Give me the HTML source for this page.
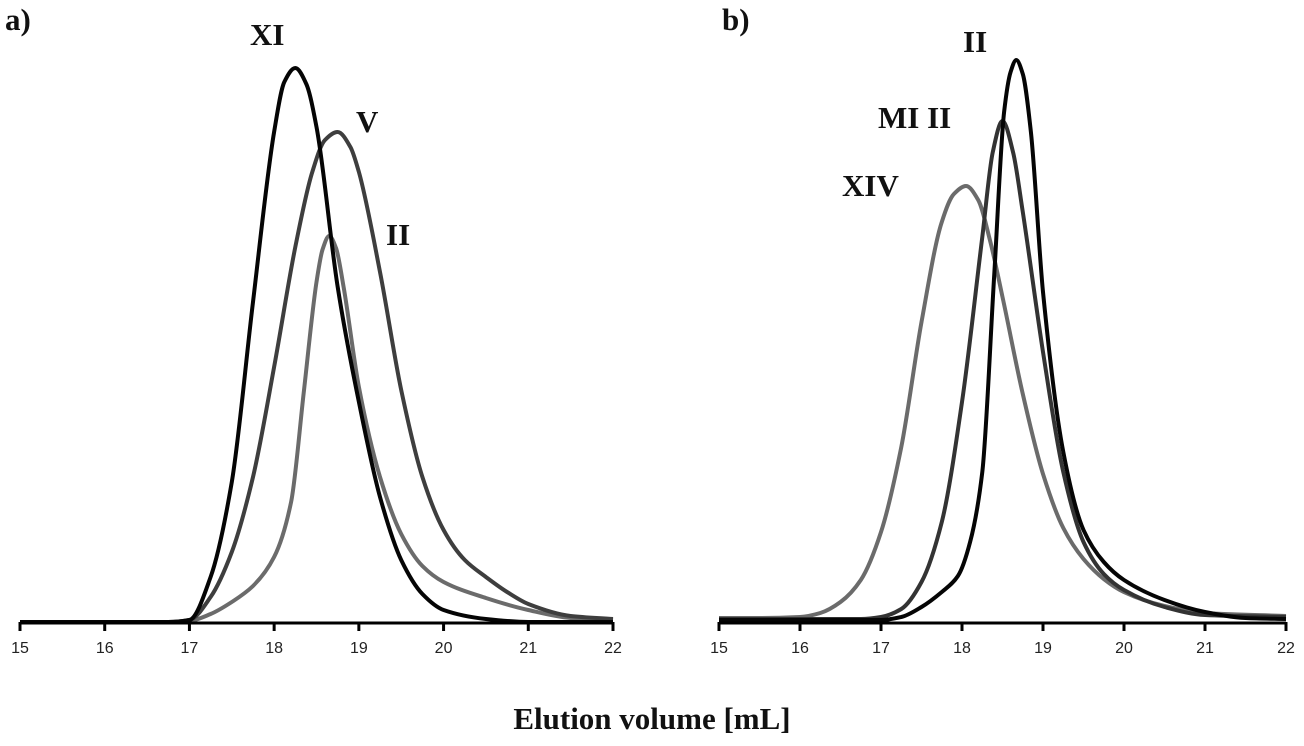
<!DOCTYPE html>
<html><head><meta charset="utf-8"><style>
html,body{margin:0;padding:0;background:#fff;}
svg{display:block;}
.tk{font-family:"Liberation Sans",sans-serif;font-size:16px;fill:#222;}
.lb{font-family:"Liberation Serif",serif;font-weight:bold;font-size:31px;fill:#111;}
</style></head><body>
<svg id="chart" width="1304" height="746" viewBox="0 0 1304 746">
<g id="pa"></g>
<g id="pb"></g>
<text class="lb" x="5" y="30">a)</text>
<text class="lb" x="722" y="30">b)</text>
<text class="lb" x="250" y="45">XI</text>
<text class="lb" x="356" y="132">V</text>
<text class="lb" x="386" y="245">II</text>
<text class="lb" x="963" y="52">II</text>
<text class="lb" x="878" y="128">MI II</text>
<text class="lb" x="842" y="196">XIV</text>
<text class="lb" x="652" y="729" text-anchor="middle">Elution volume [mL]</text>
</svg>
<script>
const xTicks = [15,16,17,18,19,20,21,22];
// panel a
const xiVol = [15,16,16.75,17.0,17.25,17.5,17.75,18.0,18.12,18.25,18.38,18.5,18.75,19.0,19.25,19.5,19.75,20.0,20.5,21,22];
const xiSig = [0,0,0,2,45,140,320,490,540,554,538,495,335,220,125,62,28,12,3,0,0];
const vVol = [15,16,16.75,17.0,17.25,17.5,17.75,18.0,18.25,18.45,18.6,18.75,18.9,19.0,19.25,19.5,19.75,20.0,20.25,20.5,20.75,21,21.5,22];
const vSig = [0,0,0,2,25,70,145,255,375,450,482,490,475,450,350,232,145,92,62,45,30,18,6,3];
const iiaVol = [15,16,16.75,17.0,17.25,17.5,17.75,18.0,18.2,18.35,18.5,18.57,18.65,18.73,18.82,19.0,19.25,19.5,19.75,20.0,20.5,21,21.5,22];
const iiaSig = [0,0,0,1,8,20,36,65,120,230,340,372,386,374,335,235,145,88,56,40,24,12,4,2];
// panel b
const iibVol = [15,16,17.0,17.25,17.5,17.75,17.95,18.1,18.25,18.4,18.52,18.6,18.67,18.75,18.85,19.0,19.25,19.5,19.75,20.0,20.5,21,21.5,22];
const iibSig = [2,2,2,5,15,30,46,80,150,350,510,550,562,548,490,330,170,92,60,42,22,10,4,3];
const miVol = [15,16,16.75,17.0,17.25,17.5,17.75,18.0,18.25,18.38,18.5,18.63,18.75,19.0,19.25,19.5,19.75,20.0,20.5,21,22];
const miSig = [3,3,3,5,13,40,100,220,385,470,501,470,410,270,150,80,48,32,15,7,5];
const xivVol = [15,15.5,16.0,16.25,16.5,16.75,17.0,17.25,17.5,17.75,17.9,18.05,18.2,18.35,18.5,18.75,19.0,19.25,19.5,19.75,20.0,20.5,21,22];
const xivSig = [4,4,5,9,20,42,90,175,300,400,428,436,422,380,325,228,148,94,63,43,30,16,9,6];

const NS='http://www.w3.org/2000/svg';
const baseY=622;
function yS(v){return baseY - v;}
function mk(tag,attrs,parent){const e=document.createElementNS(NS,tag);for(const k in attrs)e.setAttribute(k,attrs[k]);parent.appendChild(e);return e;}
function pathFrom(vols,sigs,xS){
  const X=vols.map(xS), Y=sigs.map(yS), n=X.length;
  const d=[], m=new Array(n);
  for(let i=0;i<n-1;i++) d.push((Y[i+1]-Y[i])/(X[i+1]-X[i]));
  m[0]=d[0]; m[n-1]=d[n-2];
  for(let i=1;i<n-1;i++){
    if(d[i-1]*d[i]<=0) m[i]=0;
    else { const w1=2*(X[i+1]-X[i])+(X[i]-X[i-1]), w2=(X[i+1]-X[i])+2*(X[i]-X[i-1]);
      m[i]=(w1+w2)/(w1/d[i-1]+w2/d[i]); }
  }
  let s='M'+X[0].toFixed(1)+','+Y[0].toFixed(1);
  for(let i=0;i<n-1;i++){
    const h=(X[i+1]-X[i])/3;
    s+=' C'+(X[i]+h).toFixed(1)+','+(Y[i]+m[i]*h).toFixed(1)+' '+(X[i+1]-h).toFixed(1)+','+(Y[i+1]-m[i+1]*h).toFixed(1)+' '+X[i+1].toFixed(1)+','+Y[i+1].toFixed(1);
  }
  return s;
}
function panel(g,x0,x1,series,nameP){
  const xS=v=>x0+(v-15)*(x1-x0)/7;
  series.forEach(s=>{
    const el=mk('path',{d:pathFrom(s.v,s.s,xS),fill:'none',stroke:s.c,'stroke-width':4,'stroke-linejoin':'round'},g);
    
    
  });
  const ax=mk('line',{x1:x0,x2:x1,y1:baseY+1,y2:baseY+1,stroke:'#000','stroke-width':3},g);
  
  
  xTicks.forEach(t=>{
    const tl=mk('line',{x1:xS(t),x2:xS(t),y1:baseY,y2:baseY+9,stroke:'#000','stroke-width':3},g);
    
    
    const tx=mk('text',{x:xS(t),y:baseY+31,'text-anchor':'middle',class:'tk'},g);
    tx.textContent=t;
    
    
  });
}
panel(document.getElementById('pa'),20,613,[
  {v:iiaVol,s:iiaSig,c:'#6b6b6b',n:'ii'},
  {v:vVol,s:vSig,c:'#3e3e3e',n:'v'},
  {v:xiVol,s:xiSig,c:'#050505',n:'xi'}],'panel-a');
panel(document.getElementById('pb'),719,1286,[
  {v:xivVol,s:xivSig,c:'#6b6b6b',n:'xiv'},
  {v:miVol,s:miSig,c:'#333',n:'mi-ii'},
  {v:iibVol,s:iibSig,c:'#050505',n:'ii'}],'panel-b');
</script>
</body></html>
